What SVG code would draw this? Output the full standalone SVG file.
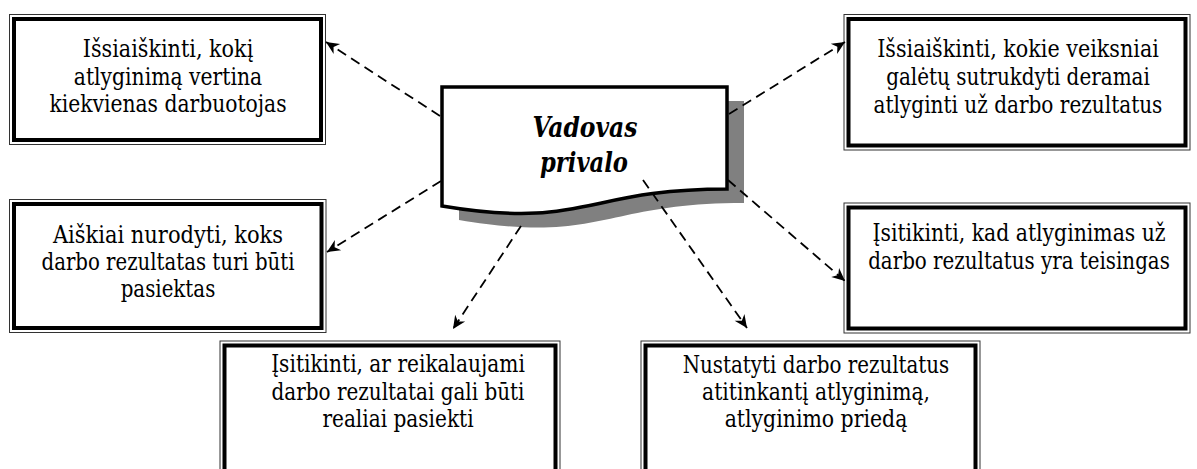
<svg xmlns="http://www.w3.org/2000/svg" width="1197" height="469" viewBox="0 0 1197 469">
  <style>
    .bg { fill: #ffffff; }
    .thin { fill: #ffffff; stroke: #333333; stroke-width: 1; }
    .thick { fill: none; stroke: #000000; stroke-width: 4; }
    .label { font-family: "DejaVu Serif Condensed", "DejaVu Serif", serif; font-size: 24px; fill: #000000; text-anchor: middle; }
    .title { font-family: "DejaVu Serif Condensed", "DejaVu Serif", serif; font-size: 27px; font-weight: bold; font-style: italic; fill: #000000; text-anchor: middle; }
    .conn { fill: none; stroke: #000000; stroke-width: 1.8; stroke-dasharray: 10 6; marker-end: url(#arrow); }
  </style>
  <defs>
    <marker id="arrow" markerUnits="userSpaceOnUse" markerWidth="16" markerHeight="14" viewBox="-14 -7 16 14" refX="0" refY="0" orient="auto">
      <path d="M0,0 L-13,-6 L-9,0 L-13,6 Z" fill="#000000"/>
    </marker>
  </defs>

  <rect class="bg" x="0" y="0" width="1197" height="469"/>

  <!-- central document shape with drop shadow -->
  <g id="vadovas">
    <path d="M459,101 H744 V203 C602,203 602,244 459,220 Z" fill="#808080"/>
    <path d="M442,87 H727 V189 C585,189 585,230 442,206 Z" fill="#ffffff" stroke="#000000" stroke-width="3.5" stroke-linejoin="miter"/>
    <text class="title" x="585" y="137" textLength="105" lengthAdjust="spacingAndGlyphs">Vadovas</text>
    <text class="title" x="584" y="172" textLength="88" lengthAdjust="spacingAndGlyphs">privalo</text>
  </g>

  <!-- boxes: thin outer rule, thick inner rule -->
  <g id="box-vertina">
    <rect class="thin" x="9.5" y="14.5" width="316" height="130"/>
    <rect class="thick" x="14" y="19" width="307" height="121"/>
    <text class="label" x="168" y="57" textLength="170.6" lengthAdjust="spacingAndGlyphs">Išsiaiškinti, kokį</text>
    <text class="label" x="168" y="85" textLength="188.5" lengthAdjust="spacingAndGlyphs">atlyginimą vertina</text>
    <text class="label" x="168" y="112" textLength="237.2" lengthAdjust="spacingAndGlyphs">kiekvienas darbuotojas</text>
  </g>

  <g id="box-veiksniai">
    <rect class="thin" x="844" y="14.5" width="346" height="135.5"/>
    <rect class="thick" x="848.5" y="19" width="337" height="126.5"/>
    <text class="label" x="1018" y="57" textLength="281.7" lengthAdjust="spacingAndGlyphs">Išsiaiškinti, kokie veiksniai</text>
    <text class="label" x="1018" y="85" textLength="263.7" lengthAdjust="spacingAndGlyphs">galėtų sutrukdyti deramai</text>
    <text class="label" x="1018" y="113" textLength="288.8" lengthAdjust="spacingAndGlyphs">atlyginti už darbo rezultatus</text>
  </g>

  <g id="box-nurodyti">
    <rect class="thin" x="9.5" y="199.5" width="316.5" height="133"/>
    <rect class="thick" x="14" y="204" width="307.5" height="124"/>
    <text class="label" x="168" y="243" textLength="230.1" lengthAdjust="spacingAndGlyphs">Aiškiai nurodyti, koks</text>
    <text class="label" x="168" y="270" textLength="252.9" lengthAdjust="spacingAndGlyphs">darbo rezultatas turi būti</text>
    <text class="label" x="168" y="297" textLength="94.6" lengthAdjust="spacingAndGlyphs">pasiektas</text>
  </g>

  <g id="box-teisingas">
    <rect class="thin" x="844" y="203" width="346" height="130"/>
    <rect class="thick" x="848.5" y="207.5" width="337" height="121"/>
    <text class="label" x="1019" y="241" textLength="293.2" lengthAdjust="spacingAndGlyphs">Įsitikinti, kad atlyginimas už</text>
    <text class="label" x="1019" y="269" textLength="301.7" lengthAdjust="spacingAndGlyphs">darbo rezultatus yra teisingas</text>
  </g>

  <g id="box-realiai">
    <rect class="thin" x="220" y="341" width="340" height="140"/>
    <rect class="thick" x="224.5" y="345.5" width="331" height="131"/>
    <text class="label" x="398" y="372" textLength="253.7" lengthAdjust="spacingAndGlyphs">Įsitikinti, ar reikalaujami</text>
    <text class="label" x="398" y="400" textLength="253" lengthAdjust="spacingAndGlyphs">darbo rezultatai gali būti</text>
    <text class="label" x="398" y="427" textLength="151.2" lengthAdjust="spacingAndGlyphs">realiai pasiekti</text>
  </g>

  <g id="box-priedas">
    <rect class="thin" x="641" y="341" width="339" height="140"/>
    <rect class="thick" x="645.5" y="345.5" width="330" height="131"/>
    <text class="label" x="816" y="373" textLength="266.6" lengthAdjust="spacingAndGlyphs">Nustatyti darbo rezultatus</text>
    <text class="label" x="816" y="400" textLength="227.9" lengthAdjust="spacingAndGlyphs">atitinkantį atlyginimą,</text>
    <text class="label" x="816" y="427" textLength="182.7" lengthAdjust="spacingAndGlyphs">atlyginimo priedą</text>
  </g>

  <!-- dashed connectors from the central shape -->
  <g id="connectors">
    <line class="conn" x1="440" y1="116" x2="326" y2="42"/>
    <line class="conn" x1="729" y1="114" x2="845" y2="42"/>
    <line class="conn" x1="441" y1="181" x2="327" y2="252"/>
    <line class="conn" x1="728" y1="180" x2="845" y2="281"/>
    <line class="conn" x1="521" y1="226" x2="453" y2="329"/>
    <line class="conn" x1="643" y1="180" x2="747" y2="328"/>
  </g>
</svg>
